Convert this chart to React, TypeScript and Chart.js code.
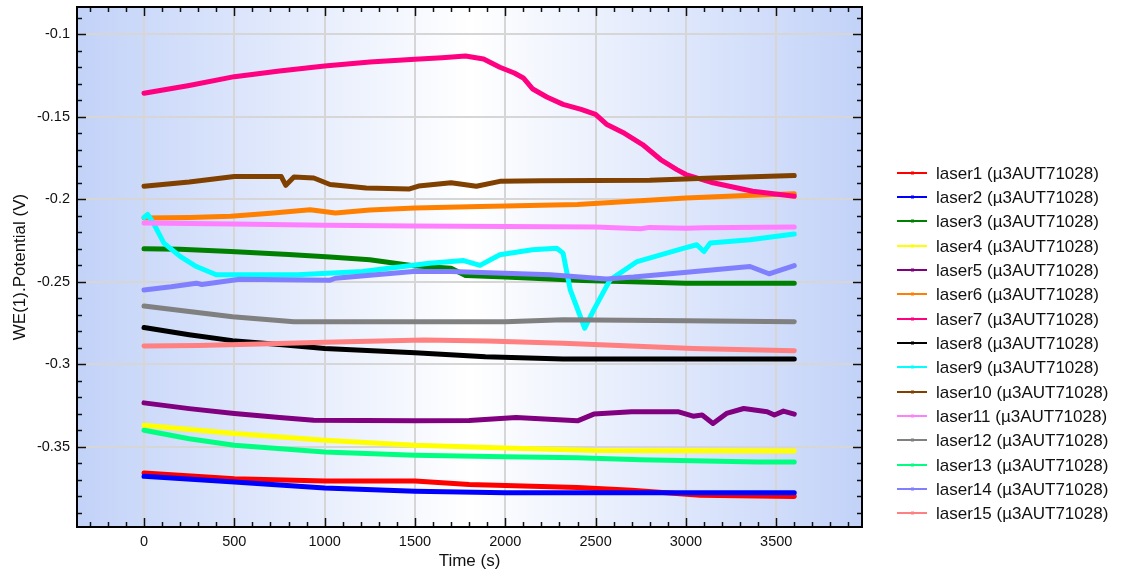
import React, { useEffect, useRef } from 'react';
import { Chart, registerables } from 'chart.js';

Chart.register(...registerables);

const FONT = '"Liberation Sans", Arial, sans-serif';

const seriesNames = [
  'laser1 (µ3AUT71028)', 'laser2 (µ3AUT71028)', 'laser3 (µ3AUT71028)', 'laser4 (µ3AUT71028)',
  'laser5 (µ3AUT71028)', 'laser6 (µ3AUT71028)', 'laser7 (µ3AUT71028)', 'laser8 (µ3AUT71028)',
  'laser9 (µ3AUT71028)', 'laser10 (µ3AUT71028)', 'laser11 (µ3AUT71028)', 'laser12 (µ3AUT71028)',
  'laser13 (µ3AUT71028)', 'laser14 (µ3AUT71028)', 'laser15 (µ3AUT71028)',
];

const seriesColors = [
  '#ff0000', '#0000ff', '#008000', '#ffff00', '#800080', '#ff8000', '#ff0080', '#000000',
  '#00ffff', '#804000', '#ff80ff', '#808080', '#00ff80', '#8080ff', '#ff8080',
];

const xTicks = [0, 500, 1000, 1500, 2000, 2500, 3000, 3500];
const yTicks = [-0.35, -0.3, -0.25, -0.2, -0.15, -0.1];

const laser1: [number, number][] = [[0, -0.3658], [500, -0.3692], [1000, -0.3706], [1500, -0.3706], [1800, -0.3727], [2000, -0.3733], [2400, -0.3745], [2700, -0.3763], [3080, -0.3793], [3600, -0.38]];
const laser2: [number, number][] = [[0, -0.3678], [500, -0.3713], [1000, -0.3749], [1500, -0.3769], [2000, -0.3777], [3600, -0.3777]];
const laser3: [number, number][] = [[0, -0.2299], [200, -0.2303], [480, -0.2316], [800, -0.2335], [1030, -0.235], [1250, -0.2366], [1490, -0.2403], [1700, -0.2417], [1780, -0.2462], [2000, -0.2471], [2430, -0.2492], [2700, -0.25], [3000, -0.2508], [3600, -0.2508]];
const laser4: [number, number][] = [[0, -0.3368], [500, -0.3419], [1000, -0.3459], [1500, -0.349], [2000, -0.3507], [2500, -0.3522], [3600, -0.3524]];
const laser5: [number, number][] = [[0, -0.3233], [250, -0.3268], [500, -0.3297], [750, -0.3322], [940, -0.3338], [1500, -0.3342], [1800, -0.334], [2060, -0.3322], [2400, -0.3342], [2490, -0.3301], [2700, -0.3287], [2960, -0.3287], [3040, -0.3314], [3090, -0.3307], [3150, -0.3358], [3225, -0.3297], [3320, -0.3267], [3450, -0.3287], [3490, -0.3307], [3540, -0.3283], [3600, -0.3301]];
const laser6: [number, number][] = [[0, -0.2113], [250, -0.211], [480, -0.2103], [700, -0.2085], [920, -0.2063], [1060, -0.2083], [1250, -0.2065], [1500, -0.2052], [1860, -0.2043], [2000, -0.204], [2400, -0.2032], [2700, -0.2012], [3000, -0.1992], [3300, -0.1978], [3600, -0.1966]];
const laser7: [number, number][] = [[0, -0.1358], [250, -0.131], [500, -0.1257], [750, -0.1223], [1000, -0.1192], [1250, -0.1168], [1500, -0.1152], [1650, -0.1142], [1780, -0.1132], [1880, -0.115], [1970, -0.12], [2050, -0.1235], [2100, -0.1265], [2150, -0.133], [2230, -0.138], [2320, -0.1425], [2420, -0.1455], [2500, -0.1486], [2560, -0.1545], [2660, -0.16], [2760, -0.1668], [2860, -0.1759], [2950, -0.182], [3000, -0.185], [3150, -0.19], [3370, -0.1951], [3600, -0.1982]];
const laser8: [number, number][] = [[0, -0.2777], [250, -0.282], [490, -0.2856], [750, -0.288], [1000, -0.2903], [1500, -0.293], [1890, -0.2953], [2320, -0.2967], [3600, -0.2967]];
const laser9: [number, number][] = [[0, -0.211], [20, -0.2092], [50, -0.214], [110, -0.2265], [200, -0.2346], [290, -0.2407], [400, -0.2457], [850, -0.2457], [1210, -0.2437], [1580, -0.2387], [1770, -0.2371], [1860, -0.24], [1970, -0.2336], [2150, -0.2306], [2285, -0.2296], [2320, -0.2326], [2360, -0.2549], [2440, -0.2781], [2490, -0.267], [2580, -0.2488], [2730, -0.2377], [2990, -0.2296], [3060, -0.2275], [3100, -0.2316], [3135, -0.2265], [3355, -0.2245], [3600, -0.221]];
const laser10: [number, number][] = [[0, -0.1921], [250, -0.1895], [500, -0.1862], [760, -0.1862], [785, -0.1915], [830, -0.1865], [940, -0.1871], [1030, -0.191], [1230, -0.1931], [1470, -0.1937], [1520, -0.192], [1700, -0.19], [1840, -0.1921], [1970, -0.1891], [2200, -0.1888], [2800, -0.1885], [3150, -0.1871], [3600, -0.1856]];
const laser11: [number, number][] = [[0, -0.2143], [500, -0.215], [1000, -0.2157], [1500, -0.2162], [2000, -0.2164], [2500, -0.2167], [2750, -0.2178], [2800, -0.217], [3000, -0.2175], [3100, -0.2172], [3600, -0.2168]];
const laser12: [number, number][] = [[0, -0.2646], [250, -0.268], [490, -0.2711], [830, -0.2741], [2000, -0.2741], [2320, -0.273], [3000, -0.2735], [3600, -0.2741]];
const laser13: [number, number][] = [[0, -0.3399], [250, -0.345], [500, -0.349], [1000, -0.353], [1500, -0.355], [2000, -0.356], [2400, -0.3565], [2750, -0.3577], [3400, -0.3591], [3600, -0.3591]];
const laser14: [number, number][] = [[0, -0.2549], [150, -0.253], [290, -0.2508], [320, -0.2516], [530, -0.2484], [1030, -0.249], [1060, -0.2478], [1490, -0.2437], [1700, -0.2437], [2250, -0.2457], [2560, -0.2482], [2710, -0.2471], [2990, -0.2443], [3355, -0.2407], [3460, -0.2451], [3600, -0.2401]];
const laser15: [number, number][] = [[0, -0.2888], [300, -0.2886], [640, -0.2876], [1000, -0.2866], [1550, -0.2852], [1900, -0.2858], [2320, -0.2872], [3040, -0.2903], [3600, -0.2917]];

const seriesData = [laser1, laser2, laser3, laser4, laser5, laser6, laser7, laser8, laser9, laser10, laser11, laser12, laser13, laser14, laser15];

const X_MIN = -371;
const X_MAX = 3975;
const Y_MIN = -0.3985;
const Y_MAX = -0.0835;

const backgroundPlugin = {
  id: 'plotBackground',
  beforeDraw(chart: any) {
    const { ctx, chartArea } = chart;
    const { left, right, top, bottom } = chartArea;
    ctx.save();
    ctx.fillStyle = '#ffffff';
    ctx.fillRect(0, 0, chart.width, chart.height);
    const g = ctx.createLinearGradient(left, 0, right, 0);
    g.addColorStop(0, 'rgb(194,210,248)');
    g.addColorStop(0.5, 'rgb(255,255,255)');
    g.addColorStop(1, 'rgb(194,210,248)');
    ctx.fillStyle = g;
    ctx.fillRect(left, top, right - left, bottom - top);
    ctx.restore();
  },
};

const framePlugin = {
  id: 'frameTicks',
  afterDatasetsDraw(chart: any) {
    const { ctx, chartArea } = chart;
    const { left, right, top, bottom } = chartArea;
    const xs = chart.scales.x;
    const ys = chart.scales.y;
    ctx.save();
    ctx.strokeStyle = '#111';
    ctx.lineWidth = 1.5;
    ctx.beginPath();
    for (let v = Math.ceil(X_MIN / 100) * 100; v <= X_MAX; v += 100) {
      const px = Math.round(xs.getPixelForValue(v)) + 0.5;
      const len = v % 500 === 0 ? 9 : 5;
      ctx.moveTo(px, bottom); ctx.lineTo(px, bottom - len);
      ctx.moveTo(px, top); ctx.lineTo(px, top + len);
    }
    for (let k = Math.ceil(Y_MIN * 100); k <= Math.floor(Y_MAX * 100); k++) {
      const py = Math.round(ys.getPixelForValue(k / 100)) + 0.5;
      const len = k % 5 === 0 ? 9 : 5;
      ctx.moveTo(left, py); ctx.lineTo(left + len, py);
      ctx.moveTo(right, py); ctx.lineTo(right - len, py);
    }
    ctx.stroke();
    ctx.lineWidth = 2;
    ctx.strokeStyle = '#000';
    ctx.strokeRect(left, top, right - left, bottom - top);
    ctx.restore();
  },
};

const legendPlugin = {
  id: 'sideLegend',
  afterDraw(chart: any) {
    const { ctx, chartArea } = chart;
    const x0 = chartArea.right + 35;
    const y0 = 172.7;
    const step = 24.33;
    ctx.save();
    ctx.font = `17px ${FONT}`;
    ctx.textBaseline = 'alphabetic';
    ctx.textAlign = 'left';
    seriesNames.forEach((name, i) => {
      const y = Math.round(y0 + i * step);
      ctx.strokeStyle = seriesColors[i];
      ctx.lineWidth = 2;
      ctx.beginPath();
      ctx.moveTo(x0, y);
      ctx.lineTo(x0 + 30, y);
      ctx.stroke();
      ctx.fillStyle = seriesColors[i];
      ctx.fillRect(x0 + 14, y - 1.5, 3, 3);
      ctx.fillStyle = '#111';
      ctx.fillText(name, x0 + 39, y + 6);
    });
    ctx.restore();
  },
};

export default function App() {
  const canvasRef = useRef<HTMLCanvasElement | null>(null);

  useEffect(() => {
    const canvas = canvasRef.current;
    if (!canvas) return;
    const chart = new Chart(canvas, {
      type: 'line',
      data: {
        datasets: seriesData.map((d, i) => ({
          label: seriesNames[i],
          data: d as any,
          borderColor: seriesColors[i],
          backgroundColor: seriesColors[i],
          borderWidth: 5,
          pointRadius: 0,
          fill: false,
          tension: 0,
          order: seriesData.length - i,
        })),
      },
      options: {
        animation: false,
        responsive: false,
        devicePixelRatio: 1,
        layout: { padding: { top: 7, right: 261, left: 0, bottom: 0 } },
        elements: { line: { borderCapStyle: 'round', borderJoinStyle: 'round' } },
        plugins: {
          legend: { display: false },
          tooltip: { enabled: false },
        },
        scales: {
          x: {
            type: 'linear',
            min: X_MIN,
            max: X_MAX,
            afterBuildTicks: (s: any) => { s.ticks = xTicks.map((v) => ({ value: v })); },
            afterFit: (s: any) => { s.height = 49; s.paddingLeft = 0; s.paddingRight = 0; },
            grid: { color: '#d6d6d6', lineWidth: 2, drawTicks: false },
            border: { display: false },
            ticks: {
              padding: 6,
              color: '#111',
              font: { size: 14.5, family: FONT },
              maxRotation: 0,
              autoSkip: false,
              callback: (v: any) => String(v),
            },
            title: {
              display: true,
              text: 'Time (s)',
              color: '#111',
              font: { size: 17, family: FONT },
              padding: { top: 0, bottom: 4 },
            },
          },
          y: {
            type: 'linear',
            min: Y_MIN,
            max: Y_MAX,
            afterBuildTicks: (s: any) => { s.ticks = yTicks.map((v) => ({ value: v })); },
            afterFit: (s: any) => { s.width = 77; s.paddingTop = 0; s.paddingBottom = 0; },
            grid: { color: '#d6d6d6', lineWidth: 2, drawTicks: false },
            border: { display: false },
            ticks: {
              padding: 7,
              color: '#111',
              font: { size: 14.5, family: FONT },
              autoSkip: false,
              callback: (v: any) => String(Number(Number(v).toFixed(2))),
            },
            title: {
              display: true,
              text: 'WE(1).Potential (V)',
              color: '#111',
              font: { size: 17, family: FONT },
              padding: { top: 10, bottom: 0 },
            },
          },
        },
      },
      plugins: [backgroundPlugin, framePlugin, legendPlugin],
    });
    return () => chart.destroy();
  }, []);

  return (
    <div style={{ position: 'fixed', left: 0, top: 0, width: 1123, height: 576, background: '#fff' }}>
      <canvas ref={canvasRef} width={1123} height={576} style={{ display: 'block' }} />
    </div>
  );
}
